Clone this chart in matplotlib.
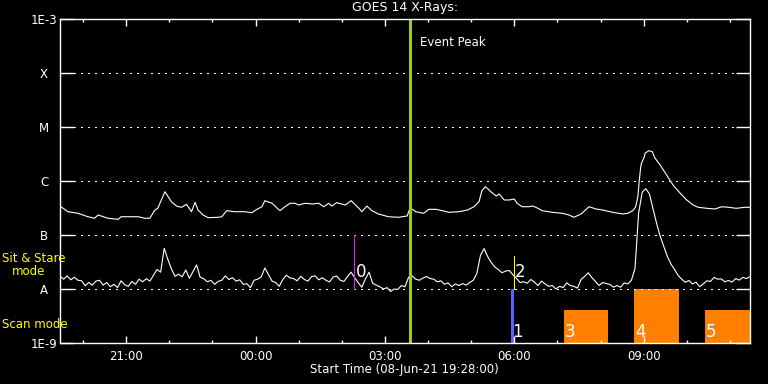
import matplotlib
matplotlib.use("Agg")
import matplotlib.pyplot as plt
from matplotlib.ticker import NullLocator
import numpy as np

start_hhmm = (19, 28)
start_text = "Start Time (08-Jun-21 19:28:00)"

# long channel (1-8 A): minutes after start, flux in 1e-7 W/m^2
long_t = [0, 11, 25, 39, 48, 53, 67, 81, 85, 109, 118, 125, 132, 136, 146, 155, 162, 169, 176, 183,
          188, 192, 199, 206, 220, 225, 232, 243, 257, 267, 274, 281, 285, 295, 306, 313, 320, 327, 332, 341,
          351, 360, 367, 374, 378, 385, 397, 405, 416, 420, 427, 434, 443, 457, 471, 483, 486, 488, 495, 506,
          513, 523, 532, 541, 555, 567, 576, 583, 587, 592, 601, 607, 611, 618, 625, 632, 636, 643, 652, 658,
          665, 671, 685, 699, 708, 715, 725, 736, 746, 755, 769, 783, 790, 797, 801, 804, 806, 808, 809, 813,
          814, 819, 824, 828, 835, 844, 853, 863, 872, 881, 888, 900, 911, 921, 930, 941, 953, 960]
long_f = np.array([
    3.44, 2.70, 2.52, 2.18, 2.04, 2.35, 2.04, 1.95, 2.18, 2.18, 2.04, 2.04, 2.90, 3.12, 6.34, 4.14, 3.44, 3.26, 3.70, 2.70,
    4.04, 2.90, 2.35, 2.09, 2.13, 2.18, 2.82, 2.70, 2.70, 2.59, 2.99, 3.34, 4.32, 3.87, 2.82, 3.34, 3.87, 3.87, 3.59, 3.87,
    3.75, 3.87, 3.34, 3.87, 3.44, 3.97, 3.59, 4.32, 3.12, 2.70, 3.44, 2.82, 2.45, 2.18, 2.13, 2.25, 2.90, 3.12, 2.70, 2.52,
    2.99, 2.99, 2.82, 2.63, 2.70, 2.90, 3.34, 4.14, 6.61, 7.84, 6.07, 5.27, 5.74, 4.45, 4.45, 4.64, 3.87, 3.34, 3.34, 3.44,
    3.12, 2.82, 2.63, 2.52, 2.35, 2.13, 2.45, 3.34, 3.03, 2.90, 2.63, 2.45, 2.52, 2.82, 3.34, 5.19, 10.4, 18.4, 21.3, 28.2,
    32.6, 36.4, 34.9, 26.3, 19.8, 12.9, 8.4, 5.92, 4.45, 3.59, 3.26, 3.12, 3.03, 3.34, 3.26, 3.12, 3.26, 3.26]) * 1e-7

# short channel (0.5-4 A): one value every 5 minutes, flux in 1e-8 W/m^2
short_step = 5
short_f = np.array([
    1.74, 1.52, 1.75, 1.48, 1.65, 1.45, 1.42, 1.15, 1.32, 1.18,
    1.40, 1.45, 1.18, 1.32, 1.10, 1.22, 1.06, 1.42, 1.20, 1.12,
    1.38, 1.22, 1.52, 1.36, 1.55, 1.40, 1.80, 2.30, 2.05, 5.67,
    3.55, 2.35, 1.72, 1.88, 1.68, 2.25, 1.58, 2.10, 2.80, 1.65,
    1.55, 1.36, 1.45, 1.22, 1.38, 1.45, 1.75, 1.50, 1.62, 1.40,
    1.48, 1.22, 1.25, 1.06, 1.45, 1.52, 1.68, 2.45, 1.85, 1.40,
    1.32, 1.12, 1.50, 1.80, 1.60, 1.56, 1.42, 1.72, 1.50, 1.40,
    1.70, 1.75, 1.48, 1.62, 1.45, 1.35, 1.66, 1.74, 1.45, 1.38,
    1.70, 2.05, 1.62, 1.30, 1.08, 1.55, 2.05, 1.28, 1.18, 1.10,
    1.00, 1.06, 0.90, 1.00, 0.98, 1.16, 1.10, 1.65, 1.74, 1.52,
    1.45, 1.60, 1.70, 1.56, 1.52, 1.36, 1.42, 1.22, 1.30, 1.10,
    1.24, 1.16, 1.26, 1.18, 1.32, 1.45, 1.95, 4.20, 5.60, 4.00,
    3.10, 2.55, 2.28, 2.00, 2.15, 2.20, 1.85, 1.58, 1.32, 1.36,
    1.28, 1.50, 1.34, 1.16, 1.40, 1.24, 1.12, 1.16, 1.00, 1.12,
    1.06, 1.30, 1.16, 1.12, 1.04, 1.50, 1.72, 2.00, 1.62, 1.38,
    1.16, 1.32, 1.26, 1.22, 1.08, 1.16, 1.08, 1.30, 1.24, 1.45,
    2.40, 25.2, 62.0, 72.0, 58.0, 31.0, 16.5, 9.5, 6.2, 4.0,
    2.9, 2.3, 1.78, 1.52, 1.33, 1.44, 1.24, 1.34, 1.10, 1.24,
    1.42, 1.38, 1.64, 1.52, 1.54, 1.36, 1.44, 1.34, 1.56, 1.46,
    1.64, 1.56, 1.70]) * 1e-8
short_t = np.arange(len(short_f)) * short_step

t_end = 960
event_peak_t = 487

# sit & stare observations
sit_ids = ["0", "2"]
sit_t = [409, 631]
sit_top = [1e-7, 4.1e-8]
sit_colors = ["#e020e0", "#ffff00"]
sit_label_y = [2.1e-8, 2.1e-8]

# scan observations
scan_ids = ["1", "3", "4", "5"]
scan_t0 = [627, 701, 799, 897]
scan_t1 = [632, 762, 861, 960]
scan_top = [1e-8, 4.1e-9, 1e-8, 4.1e-9]
scan_colors = ["#6060ff", "#ff8000", "#ff8000", "#ff8000"]

class_levels = [1e-3, 1e-4, 1e-5, 1e-6, 1e-7, 1e-8, 1e-9]
class_names = ["1E-3", "X", "M", "C", "B", "A", "1E-9"]

hour_marks = [20, 21, 22, 23, 0, 1, 2, 3, 4, 5, 6, 7, 8, 9, 10, 11]
major_hours = [21, 0, 3, 6, 9]


def since_start(h):
    return (h * 60 - (start_hhmm[0] * 60 + start_hhmm[1])) % 1440


fig = plt.figure(figsize=(7.68, 3.84), dpi=100, facecolor="black")
ax = fig.add_axes([60 / 768, 41 / 384, 690 / 768, 324 / 384], facecolor="black")

ax.set_yscale("log")
ax.set_ylim(1e-9, 1e-3)
ax.set_xlim(0, t_end)

for lev in class_levels[1:-1]:
    ax.axhline(lev, color="white", lw=1.0, ls=(0, (0.8, 3.6)), antialiased=False)

ax.plot(long_t, long_f, color="white", lw=0.8)
ax.plot(short_t, short_f, color="white", lw=0.8)

for t0, t1, top, c, lab in zip(scan_t0, scan_t1, scan_top, scan_colors, scan_ids):
    ax.bar(t0, top - 1e-9, bottom=1e-9, width=t1 - t0, align="edge", color=c, lw=0)
    ax.text(t0 + 1.5, 1.6e-9, lab, color="white", fontsize=12, ha="left", va="center")

for t, top, c, lab, ly in zip(sit_t, sit_top, sit_colors, sit_ids, sit_label_y):
    ax.plot([t, t], [1e-8, top], color=c, lw=0.55, antialiased=False)
    ax.text(t + 2, ly, lab, color="white", fontsize=12, ha="left", va="center")

ax.axvline(event_peak_t, color="#9acd1e", lw=2.2)
ax.text(event_peak_t + 14, 10 ** (-3 - 24 / 54), "Event Peak", color="white", fontsize=8.5, ha="left", va="center")

ax.set_yticks(class_levels)
ax.set_yticklabels(class_names)
ax.yaxis.set_minor_locator(NullLocator())
ax.set_xticks([since_start(h) for h in major_hours])
ax.set_xticklabels(["%02d:00" % h for h in major_hours])
ax.set_xticks([since_start(h) for h in hour_marks if h not in major_hours], minor=True)

ax.tick_params(which="both", direction="in", top=True, right=True, color="white",
               labelcolor="white", labelsize=8.5, width=1)
ax.tick_params(axis="x", which="major", length=5, pad=5)
ax.tick_params(axis="x", which="minor", length=2.5)
ax.tick_params(axis="y", which="major", length=10, pad=11.5)
for lab in ax.get_yticklabels():
    lab.set_horizontalalignment("center")
for s in ax.spines.values():
    s.set_color("white")
    s.set_linewidth(1.0)

fig.text(405 / 768, 1 - 8 / 384, "GOES 14 X-Rays:", color="white", fontsize=9, ha="center", va="center")
fig.text(404 / 768, 1 - 369 / 384, start_text, color="white", fontsize=8.5, ha="center", va="center")
fig.text(2 / 768, 1 - 259 / 384, "Sit & Stare", color="yellow", fontsize=8.5, ha="left", va="center")
fig.text(12 / 768, 1 - 271.5 / 384, "mode", color="yellow", fontsize=8.5, ha="left", va="center")
fig.text(2 / 768, 1 - 324 / 384, "Scan mode", color="yellow", fontsize=8.5, ha="left", va="center")

fig.savefig("out.png", dpi=100, facecolor="black")
